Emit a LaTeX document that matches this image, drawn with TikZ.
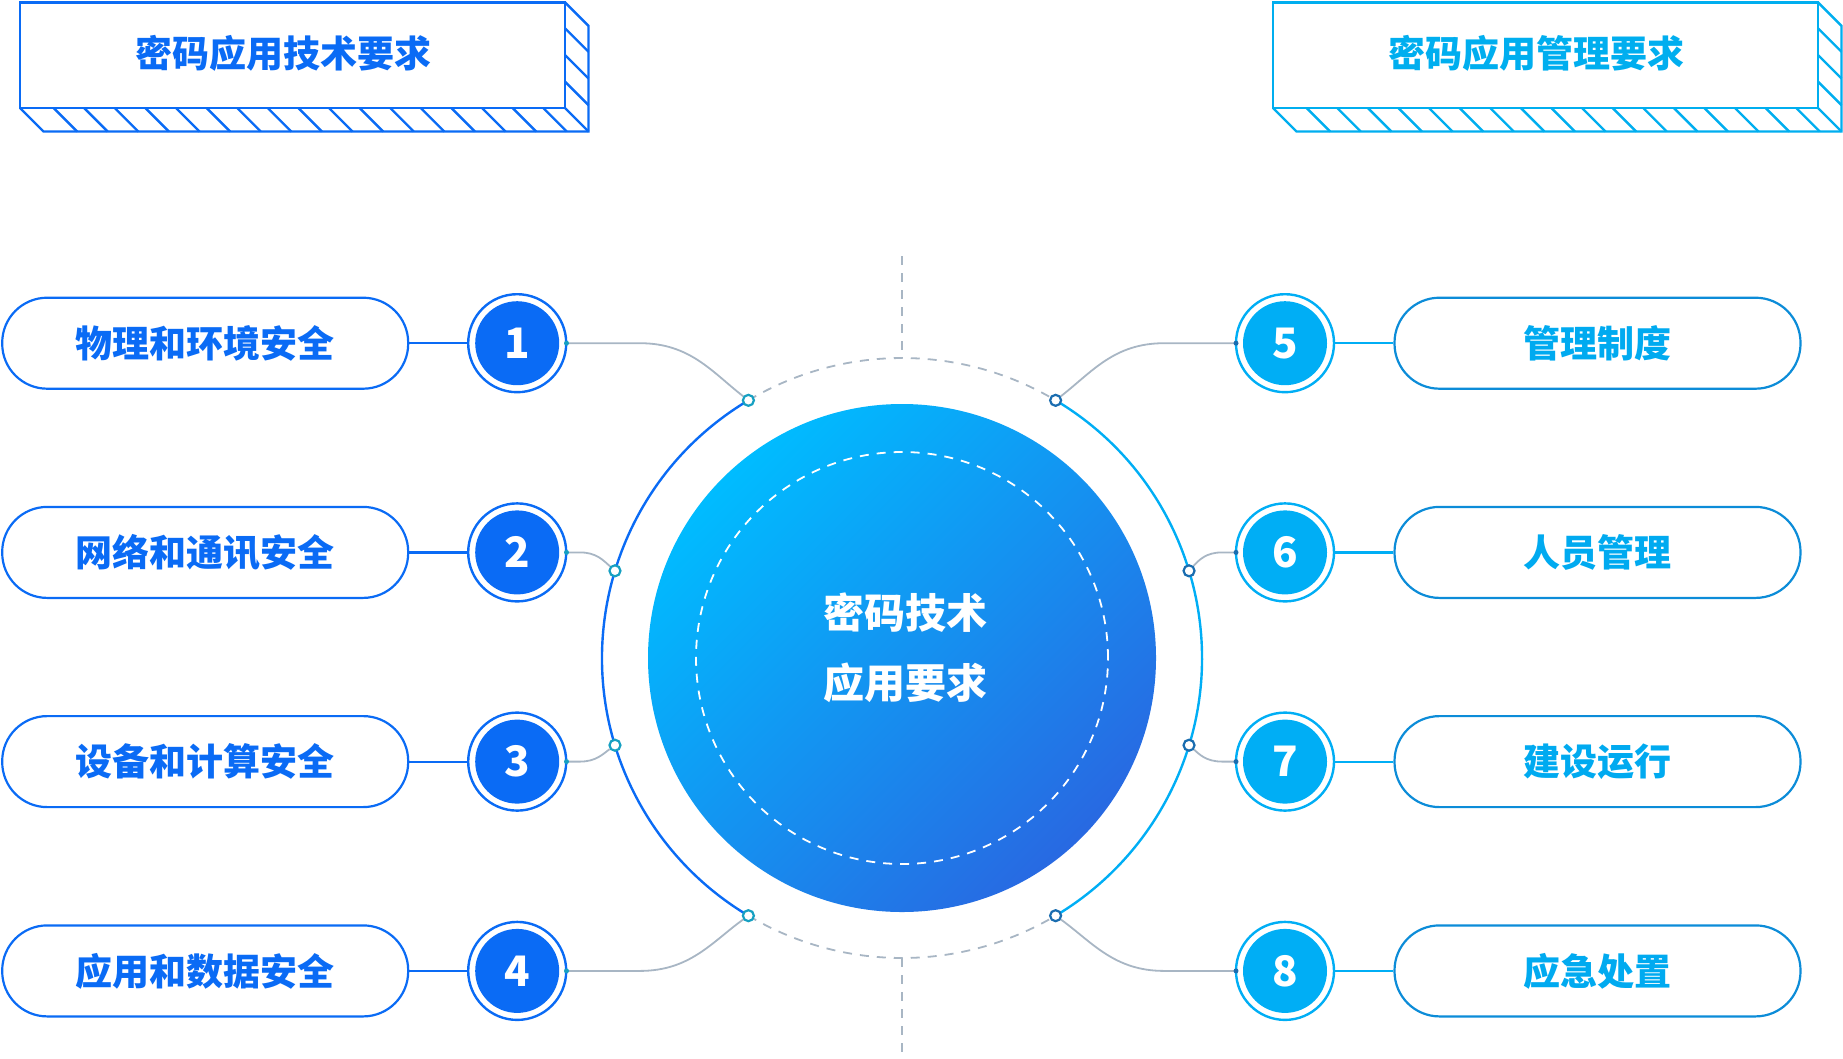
\documentclass[tikz,border=0pt]{standalone}
\usepackage{fontspec}
\newfontfamily\cjk{Noto Sans CJK SC}
\usetikzlibrary{calc}
\definecolor{blueL}{HTML}{0A6BF5}
\definecolor{cyanR}{HTML}{00AEF5}
\definecolor{pillR}{HTML}{0C8CD8}
\definecolor{textR}{HTML}{00AAF0}
\definecolor{hdrR}{HTML}{00AEEF}
\definecolor{grayc}{HTML}{A8B6C4}
\definecolor{tealJ}{HTML}{16A0C2}
\definecolor{darkJ}{HTML}{1A6DB0}
\definecolor{diskA}{HTML}{00BCFF}
\definecolor{diskB}{HTML}{2869E2}
\tikzset{
  pillL/.style={draw=blueL, line width=2.2pt, rounded corners=45pt, minimum width=406pt, minimum height=91pt, text=blueL, font=\cjk\bfseries\fontsize{37}{40}\selectfont, inner sep=0pt},
  pillR/.style={pillL, draw=pillR, text=textR},
  numL/.style={circle, fill=blueL, minimum size=84pt, inner sep=0pt, text=white, font=\cjk\bfseries\fontsize{42}{44}\selectfont},
  numR/.style={numL, fill=cyanR},
  ringL/.style={draw=blueL, line width=2.4pt},
  ringR/.style={draw=cyanR, line width=2.4pt},
  juncL/.style={circle, draw=tealJ, fill=white, line width=2.2pt, minimum size=11pt, inner sep=0pt},
  juncR/.style={juncL, draw=darkJ},
  dotL/.style={circle, fill=tealJ, minimum size=5pt, inner sep=0pt},
  dotR/.style={dotL, fill=darkJ},
  conn/.style={draw=grayc, line width=1.8pt},
  grayd/.style={draw=grayc, line width=1.8pt, dash pattern=on 9pt off 8pt},
  hdrline/.style={line width=2.4pt, line join=miter},
  hdrtext/.style={font=\cjk\bfseries\fontsize{37}{40}\selectfont, inner sep=0pt},
  link/.style={line width=2.2pt, shorten >=7pt}
}
\begin{document}
\begin{tikzpicture}[x=1pt,y=1pt]
\path[use as bounding box] (0,0) rectangle (1843,-1058);

% ---------- headers ----------
\begin{scope}[hdrline, draw=blueL]
\draw (20,-2.4) rectangle (565,-108);
\draw (20,-108) -- (43.5,-131.5) -- (588.5,-131.5) -- (588.5,-25.9) -- (565,-2.4);
\draw (565,-108) -- (588.5,-131.5);
\foreach \k in {0,...,16} \draw ({53.6+30.6*\k},-108) -- ++(23.5,-23.5);
\foreach \y in {28.3,55,81.7} \draw (565,-\y) -- ++(23.5,-23.5);
\end{scope}
\node[hdrtext, text=blueL] (h1) at (283,-53) {密码应用技术要求};

\begin{scope}[hdrline, draw=hdrR, xshift=1253pt]
\draw (20,-2.4) rectangle (565,-108);
\draw (20,-108) -- (43.5,-131.5) -- (588.5,-131.5) -- (588.5,-25.9) -- (565,-2.4);
\draw (565,-108) -- (588.5,-131.5);
\foreach \k in {0,...,16} \draw ({53.6+30.6*\k},-108) -- ++(23.5,-23.5);
\foreach \y in {28.3,55,81.7} \draw (565,-\y) -- ++(23.5,-23.5);
\end{scope}
\node[hdrtext, text=hdrR] (h2) at (1536,-53) {密码应用管理要求};

% ---------- center ----------
\coordinate (C) at (902,-658);
\coordinate (vt) at (902,-256);
\coordinate (vb) at (902,-1058);
\coordinate (rt) at ($(C)+(90:300)$);
\coordinate (rb) at ($(C)+(270:300)$);
\draw[grayd] (vt) -- (rt);
\draw[grayd] (rb) -- (vb);

\draw[ringL] ($(C)+(120.8:300)$) arc[start angle=120.8, end angle=239.2, radius=300];
\draw[ringR] ($(C)+(59.2:300)$) arc[start angle=59.2, end angle=-59.2, radius=300];
\draw[grayd] ($(C)+(120.8:300)$) arc[start angle=120.8, end angle=59.2, radius=300];
\draw[grayd] ($(C)+(239.2:300)$) arc[start angle=239.2, end angle=300.8, radius=300];

\node[circle, minimum size=508pt, inner sep=0pt, top color=diskA, bottom color=diskB, shading angle=45] (disk) at (C) {};
\draw[white, line width=1.8pt, dash pattern=on 9pt off 8pt] (C) circle[radius=206];
\node[align=center, text=white, font=\cjk\bfseries\fontsize{41}{70.3}\selectfont] (ct) at (905.7,-648) {密码技术\\应用要求};

% ---------- junctions ----------
\node[juncL] (j1) at ($(C)+(120.8:300)$) {};
\node[juncL] (j2) at ($(C)+(163.1:300)$) {};
\node[juncL] (j3) at ($(C)+(196.9:300)$) {};
\node[juncL] (j4) at ($(C)+(239.2:300)$) {};
\node[juncR] (j5) at ($(C)+(59.2:300)$) {};
\node[juncR] (j6) at ($(C)+(16.9:300)$) {};
\node[juncR] (j7) at ($(C)+(-16.9:300)$) {};
\node[juncR] (j8) at ($(C)+(-59.2:300)$) {};

% ---------- left items ----------
\node[pillL] (p1) at (205.2,-343.2) {物理和环境安全};
\node[pillL] (p2) at (205.2,-552.4) {网络和通讯安全};
\node[pillL] (p3) at (205.2,-761.6) {设备和计算安全};
\node[pillL] (p4) at (205.2,-970.9) {应用和数据安全};
\foreach \i/\y in {1/343.2,2/552.4,3/761.6,4/970.9}{
  \node[numL] (n\i) at (517.2,-\y) {\i};
  \draw[ringL] (n\i.center) circle[radius=49];
  \draw[blueL, link] (p\i.east) -- (n\i.west);
}
% ---------- right items ----------
\node[pillR] (p5) at (1597.5,-343.2) {管理制度};
\node[pillR] (p6) at (1597.5,-552.4) {人员管理};
\node[pillR] (p7) at (1597.5,-761.6) {建设运行};
\node[pillR] (p8) at (1597.5,-970.9) {应急处置};
\foreach \i/\y in {5/343.2,6/552.4,7/761.6,8/970.9}{
  \node[numR] (n\i) at (1285,-\y) {\i};
  \draw[ringR] (n\i.center) circle[radius=49];
  \draw[cyanR, link] (p\i.west) -- (n\i.east);
}

% ---------- connectors ----------
\draw[conn] (566.5,-343.2) coordinate (d1) -- (640,-343.2) .. controls (690,-343.2) and (712,-372) .. (j1);
\draw[conn] (566.5,-552.4) coordinate (d2) -- (580,-552.4) .. controls (596,-552.4) and (603,-560) .. (j2);
\draw[conn] (566.5,-761.6) coordinate (d3) -- (580,-761.6) .. controls (596,-761.6) and (603,-754) .. (j3);
\draw[conn] (566.5,-970.9) coordinate (d4) -- (640,-970.9) .. controls (690,-970.9) and (712,-942) .. (j4);
\draw[conn] (1236,-343.2) coordinate (d5) -- (1164,-343.2) .. controls (1114,-343.2) and (1092,-372) .. (j5);
\draw[conn] (1236,-552.4) coordinate (d6) -- (1222,-552.4) .. controls (1206,-552.4) and (1199,-560) .. (j6);
\draw[conn] (1236,-761.6) coordinate (d7) -- (1222,-761.6) .. controls (1206,-761.6) and (1199,-754) .. (j7);
\draw[conn] (1236,-970.9) coordinate (d8) -- (1164,-970.9) .. controls (1114,-970.9) and (1092,-942) .. (j8);
\foreach \i in {1,2,3,4} \node[dotL] (e\i) at (d\i) {};
\foreach \i in {5,6,7,8} \node[dotR] (e\i) at (d\i) {};
\end{tikzpicture}
\end{document}
